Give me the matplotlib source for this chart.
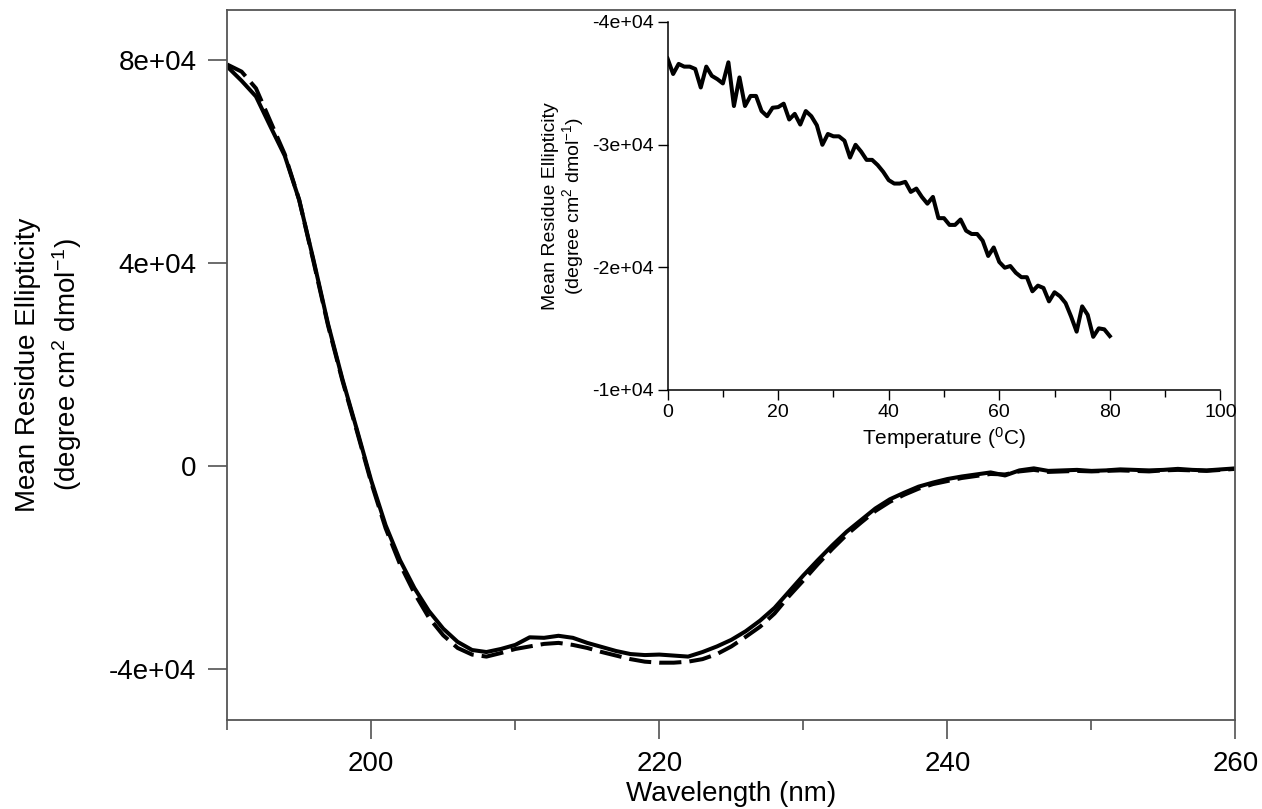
import matplotlib
matplotlib.use("Agg")
import matplotlib.pyplot as plt
import numpy as np

plt.rcParams["font.family"] = ["Liberation Sans", "DejaVu Sans"]
plt.rcParams["mathtext.fontset"] = "custom"
plt.rcParams["mathtext.rm"] = "Liberation Sans"
plt.rcParams["mathtext.it"] = "Liberation Sans:italic"

# CD spectra, 190-260 nm in 1 nm steps
wavelength = np.arange(190, 261, 1)
mre_solid = [78800, 76000, 72900, 67000, 61200, 52500, 40600, 28100, 17200, 7300,
             -2800, -11600, -18500, -24000, -28500, -32000, -34600, -36200, -36600, -36000,
             -35200, -33700, -33800, -33400, -33800, -34800, -35600, -36400, -37000, -37200,
             -37100, -37300, -37500, -36600, -35500, -34200, -32500, -30400, -27900, -24700,
             -21500, -18500, -15600, -12900, -10600, -8300, -6500, -5200, -4000, -3200,
             -2500, -2000, -1600, -1200, -1800, -800, -400, -900, -800, -700,
             -900, -800, -600, -700, -800, -700, -500, -700, -800, -600, -400]
mre_dashed = [79200, 77800, 74500, 68000, 61500, 52500, 40300, 27800, 16900, 7000,
              -3200, -12200, -19300, -25000, -29800, -33300, -35800, -37100, -37500, -36800,
              -36000, -35500, -35000, -34800, -35200, -35800, -36600, -37300, -38000, -38500,
              -38700, -38700, -38500, -38000, -37000, -35500, -33600, -31600, -29000, -25600,
              -22500, -19300, -16300, -13500, -11100, -8800, -7000, -5600, -4400, -3500,
              -2900, -2300, -1900, -1500, -1600, -1000, -700, -1100, -1000, -900,
              -1000, -900, -800, -900, -1000, -800, -700, -800, -900, -700, -500]

# thermal melt at 222 nm
temperature = np.arange(0, 81, 1)
mre_melt = [-37000, -35750, -36570, -36350, -36350, -36160, -34650, -36350, -35600, -35330,
            -34980, -36700, -33140, -35470, -33140, -33960, -33960, -32730, -32310, -33000,
            -33050, -33330, -32040, -32500, -31630, -32730, -32310, -31570, -29980, -30860,
            -30670, -30670, -30310, -28940, -29980, -29430, -28750, -28750, -28330, -27780,
            -27100, -26820, -26820, -26960, -26140, -26410, -25730, -25180, -25730, -24000,
            -24000, -23450, -23450, -23890, -22980, -22710, -22710, -22160, -20920, -21610,
            -20430, -19960, -20100, -19550, -19190, -19190, -18040, -18500, -18310, -17220,
            -17960, -17630, -17080, -15980, -14750, -16810, -16120, -14330, -15020, -14940,
            -14390]

main_yticks = [-40000, 0, 40000, 80000]
main_ylabels = ["-4e+04", "0", "4e+04", "8e+04"]
inset_yticks = [-40000, -30000, -20000, -10000]
inset_ylabels = ["-4e+04", "-3e+04", "-2e+04", "-1e+04"]

fig = plt.figure(figsize=(12.62, 8.09), dpi=100)
ax = fig.add_axes([0.180, 0.110, 0.799, 0.878])

ax.plot(wavelength, mre_solid, color="k", lw=2.9)
ax.plot(wavelength, mre_dashed, color="k", lw=2.9, dashes=(5.5, 2))

ax.set_xlim(190, 260)
ax.set_ylim(-50000, 90000)
ax.set_xticks([200, 220, 240, 260])
ax.set_xticks([190, 210, 230, 250], minor=True)
ax.set_yticks(main_yticks)
ax.set_yticklabels(main_ylabels)
for s in ax.spines.values():
    s.set_color("#555555")
    s.set_linewidth(1.3)
ax.tick_params(which="major", direction="out", length=14, width=1.1,
               color="#444444", labelsize=20, pad=8)
ax.tick_params(axis="x", which="minor", direction="out", length=7, width=1.1,
               color="#444444")
ax.set_xlabel("Wavelength (nm)", fontsize=20, labelpad=3)
ax.set_ylabel("Mean Residue Ellipticity\n(degree cm$^2$ dmol$^{-1}$)",
              fontsize=20, labelpad=18, linespacing=1.35)

# inset
axin = fig.add_axes([0.529, 0.518, 0.438, 0.455])
axin.patch.set_alpha(0)
axin.plot(temperature, mre_melt, color="k", lw=2.9)
axin.set_xlim(0, 100)
axin.set_ylim(-10000, -40000)
axin.set_xticks(np.arange(0, 101, 20))
axin.set_xticks(np.arange(10, 100, 20), minor=True)
axin.set_yticks(inset_yticks)
axin.set_yticklabels(inset_ylabels)
axin.spines["top"].set_visible(False)
axin.spines["right"].set_visible(False)
for s in ["left", "bottom"]:
    axin.spines[s].set_linewidth(1.1)
axin.tick_params(which="major", direction="out", length=7, width=1,
                 labelsize=14, pad=3)
axin.tick_params(axis="x", which="minor", direction="out", length=5, width=1)
axin.set_xlabel("Temperature ($^0$C)", fontsize=15, labelpad=3)
axin.set_ylabel("Mean Residue Ellipticity\n(degree cm$^2$ dmol$^{-1}$)",
                fontsize=14, labelpad=4, linespacing=1.1)

fig.savefig("out.png", dpi=100)
